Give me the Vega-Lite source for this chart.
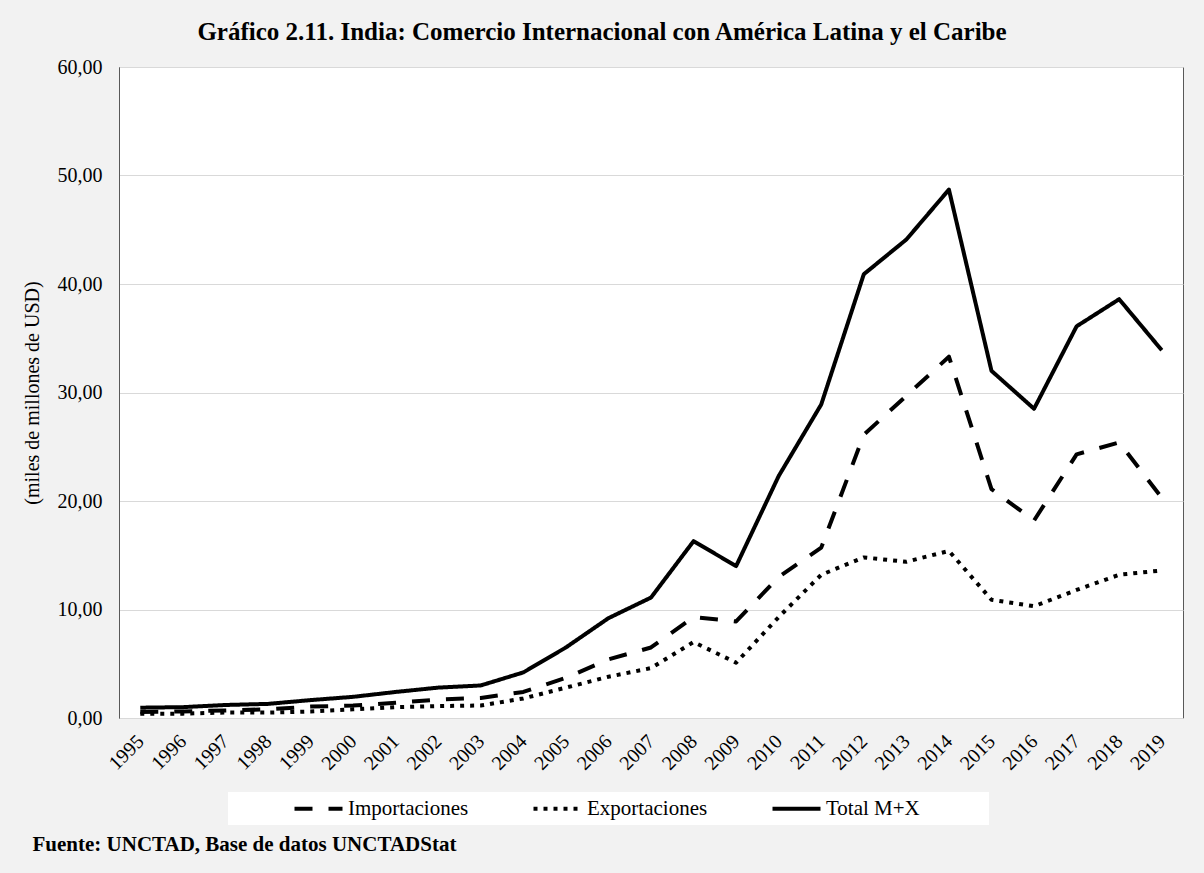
{
  "$schema": "https://vega.github.io/schema/vega-lite/v6.json",
  "width": 1064,
  "height": 651,
  "autosize": {"type": "none"},
  "padding": {"left": 119, "top": 67, "right": 21, "bottom": 155},
  "background": "#f2f2f2",
  "title": {
    "text": "Gráfico 2.11. India: Comercio Internacional con América Latina y el Caribe",
    "font": "Liberation Serif",
    "fontSize": 25,
    "fontWeight": "bold",
    "color": "#000000",
    "anchor": "middle",
    "dx": -49,
    "offset": 12
  },
  "data": {
    "values": [
      {"year": "1995", "serie": "Importaciones", "value": 0.55},
      {"year": "1996", "serie": "Importaciones", "value": 0.6},
      {"year": "1997", "serie": "Importaciones", "value": 0.7},
      {"year": "1998", "serie": "Importaciones", "value": 0.8},
      {"year": "1999", "serie": "Importaciones", "value": 1.05},
      {"year": "2000", "serie": "Importaciones", "value": 1.15},
      {"year": "2001", "serie": "Importaciones", "value": 1.4},
      {"year": "2002", "serie": "Importaciones", "value": 1.7},
      {"year": "2003", "serie": "Importaciones", "value": 1.85},
      {"year": "2004", "serie": "Importaciones", "value": 2.4},
      {"year": "2005", "serie": "Importaciones", "value": 3.7},
      {"year": "2006", "serie": "Importaciones", "value": 5.4},
      {"year": "2007", "serie": "Importaciones", "value": 6.5},
      {"year": "2008", "serie": "Importaciones", "value": 9.3},
      {"year": "2009", "serie": "Importaciones", "value": 8.9},
      {"year": "2010", "serie": "Importaciones", "value": 13.0},
      {"year": "2011", "serie": "Importaciones", "value": 15.7},
      {"year": "2012", "serie": "Importaciones", "value": 26.1},
      {"year": "2013", "serie": "Importaciones", "value": 29.7},
      {"year": "2014", "serie": "Importaciones", "value": 33.3},
      {"year": "2015", "serie": "Importaciones", "value": 21.1},
      {"year": "2016", "serie": "Importaciones", "value": 18.2},
      {"year": "2017", "serie": "Importaciones", "value": 24.3},
      {"year": "2018", "serie": "Importaciones", "value": 25.4},
      {"year": "2019", "serie": "Importaciones", "value": 20.3},
      {"year": "1995", "serie": "Exportaciones", "value": 0.4},
      {"year": "1996", "serie": "Exportaciones", "value": 0.4},
      {"year": "1997", "serie": "Exportaciones", "value": 0.5},
      {"year": "1998", "serie": "Exportaciones", "value": 0.5},
      {"year": "1999", "serie": "Exportaciones", "value": 0.6},
      {"year": "2000", "serie": "Exportaciones", "value": 0.8},
      {"year": "2001", "serie": "Exportaciones", "value": 1.0},
      {"year": "2002", "serie": "Exportaciones", "value": 1.1},
      {"year": "2003", "serie": "Exportaciones", "value": 1.15},
      {"year": "2004", "serie": "Exportaciones", "value": 1.8},
      {"year": "2005", "serie": "Exportaciones", "value": 2.8},
      {"year": "2006", "serie": "Exportaciones", "value": 3.8},
      {"year": "2007", "serie": "Exportaciones", "value": 4.6},
      {"year": "2008", "serie": "Exportaciones", "value": 7.0},
      {"year": "2009", "serie": "Exportaciones", "value": 5.1},
      {"year": "2010", "serie": "Exportaciones", "value": 9.3},
      {"year": "2011", "serie": "Exportaciones", "value": 13.2},
      {"year": "2012", "serie": "Exportaciones", "value": 14.8},
      {"year": "2013", "serie": "Exportaciones", "value": 14.4},
      {"year": "2014", "serie": "Exportaciones", "value": 15.4},
      {"year": "2015", "serie": "Exportaciones", "value": 10.9},
      {"year": "2016", "serie": "Exportaciones", "value": 10.3},
      {"year": "2017", "serie": "Exportaciones", "value": 11.8},
      {"year": "2018", "serie": "Exportaciones", "value": 13.2},
      {"year": "2019", "serie": "Exportaciones", "value": 13.6},
      {"year": "1995", "serie": "Total M+X", "value": 0.95},
      {"year": "1996", "serie": "Total M+X", "value": 1.0},
      {"year": "1997", "serie": "Total M+X", "value": 1.2},
      {"year": "1998", "serie": "Total M+X", "value": 1.3},
      {"year": "1999", "serie": "Total M+X", "value": 1.65},
      {"year": "2000", "serie": "Total M+X", "value": 1.95},
      {"year": "2001", "serie": "Total M+X", "value": 2.4},
      {"year": "2002", "serie": "Total M+X", "value": 2.8},
      {"year": "2003", "serie": "Total M+X", "value": 3.0},
      {"year": "2004", "serie": "Total M+X", "value": 4.2},
      {"year": "2005", "serie": "Total M+X", "value": 6.5},
      {"year": "2006", "serie": "Total M+X", "value": 9.2},
      {"year": "2007", "serie": "Total M+X", "value": 11.1},
      {"year": "2008", "serie": "Total M+X", "value": 16.3},
      {"year": "2009", "serie": "Total M+X", "value": 14.0},
      {"year": "2010", "serie": "Total M+X", "value": 22.3},
      {"year": "2011", "serie": "Total M+X", "value": 28.9},
      {"year": "2012", "serie": "Total M+X", "value": 40.9},
      {"year": "2013", "serie": "Total M+X", "value": 44.1},
      {"year": "2014", "serie": "Total M+X", "value": 48.7},
      {"year": "2015", "serie": "Total M+X", "value": 32.0},
      {"year": "2016", "serie": "Total M+X", "value": 28.5},
      {"year": "2017", "serie": "Total M+X", "value": 36.1},
      {"year": "2018", "serie": "Total M+X", "value": 38.6},
      {"year": "2019", "serie": "Total M+X", "value": 33.9}
    ]
  },
  "mark": {
    "type": "line",
    "strokeWidth": 4,
    "strokeJoin": "round",
    "color": "#000000"
  },
  "encoding": {
    "x": {
      "field": "year",
      "type": "ordinal",
      "sort": null,
      "scale": {"type": "point", "padding": 0.5},
      "axis": {
        "title": "Fuente: UNCTAD, Base de datos UNCTADStat",
        "titleFont": "Liberation Serif",
        "titleFontSize": 21,
        "titleFontWeight": "bold",
        "titleColor": "#000000",
        "titleAnchor": "start",
        "titleAlign": "left",
        "titleBaseline": "top",
        "titleX": -87,
        "titleY": 115,
        "labelAngle": -45,
        "labelAlign": "right",
        "labelBaseline": "middle",
        "labelFont": "Liberation Serif",
        "labelFontSize": 20,
        "labelColor": "#000000",
        "labelPadding": 20,
        "ticks": false,
        "domainColor": "#d9d9d9",
        "grid": false
      }
    },
    "y": {
      "field": "value",
      "type": "quantitative",
      "scale": {"domain": [0, 60]},
      "axis": {
        "values": [0, 10, 20, 30, 40, 50, 60],
        "labelExpr": "replace(format(datum.value, '.2f'), '.', ',')",
        "labelFont": "Liberation Serif",
        "labelFontSize": 20,
        "labelColor": "#000000",
        "labelPadding": 17,
        "ticks": false,
        "domainColor": "#595959",
        "gridColor": "#d9d9d9",
        "gridWidth": 1,
        "title": "(miles de millones de USD)",
        "titleFont": "Liberation Serif",
        "titleFontSize": 20,
        "titleFontWeight": "normal",
        "titleColor": "#000000",
        "titlePadding": 15
      }
    },
    "strokeDash": {
      "field": "serie",
      "type": "nominal",
      "scale": {
        "domain": ["Importaciones", "Exportaciones", "Total M+X"],
        "range": [[18, 16], [4, 6], [1, 0]]
      },
      "legend": {
        "orient": "none",
        "legendX": 109,
        "legendY": 725,
        "direction": "horizontal",
        "columns": 3,
        "gridAlign": "each",
        "fillColor": "#ffffff",
        "padding": 6,
        "title": "\u00a0",
        "titleOrient": "left",
        "titlePadding": 74,
        "symbolType": "M-4,0H4",
        "symbolSize": 144,
        "symbolStrokeWidth": 4,
        "symbolStrokeColor": "#000000",
        "labelFont": "Liberation Serif",
        "labelFontSize": 21,
        "labelColor": "#000000",
        "labelOffset": 19,
        "labelLimit": 400,
        "columnPadding": 56,
        "labelExpr": "datum.label + (datum.label == 'Total M+X' ? '\u2003\u2003\u2003\u200b' : '')"
      }
    }
  },
  "config": {
    "view": {"fill": "#ffffff", "stroke": "#595959", "strokeWidth": 1}
  }
}
